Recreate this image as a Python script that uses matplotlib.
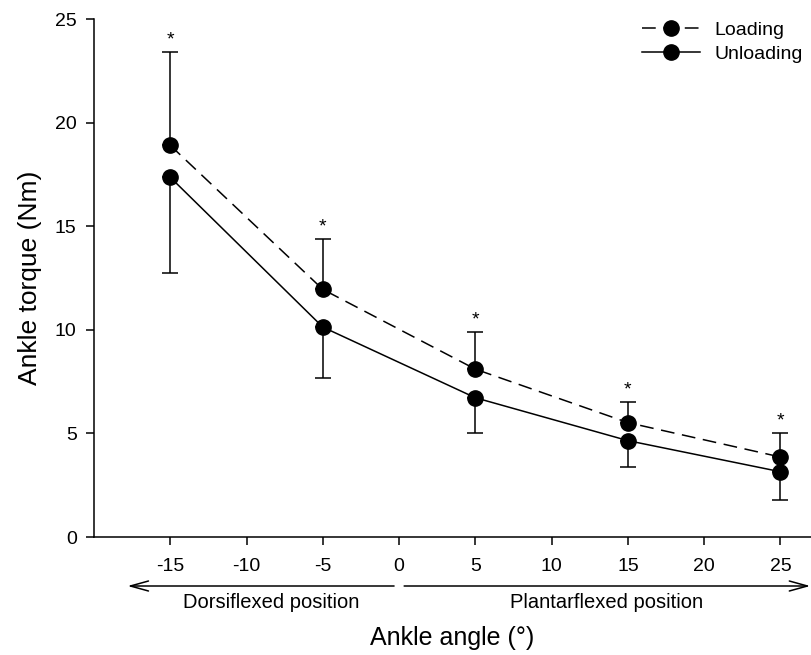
import matplotlib
matplotlib.use('Agg')
import matplotlib.pyplot as plt

plt.rcParams['font.family'] = ['Liberation Sans', 'DejaVu Sans']

# ankle angle (deg) and torque (Nm), mean and SD
angles = [-15, -5, 5, 15, 25]
loading = [18.9, 11.95, 8.1, 5.52, 3.86]
loading_sd = [4.5, 2.43, 1.8, 0.98, 1.17]
unloading = [17.36, 10.13, 6.72, 4.65, 3.15]
unloading_sd = [4.63, 2.47, 1.72, 1.26, 1.36]

xticks = [-15, -10, -5, 0, 5, 10, 15, 20, 25]
yticks = [0, 5, 10, 15, 20, 25]

fig = plt.figure(figsize=(8.11, 6.55), dpi=100)
ax = fig.add_axes([94/811, 118/655, 717/811, 518/655])

zeros = [0]*len(angles)
# error bars: loading upwards, unloading downwards
ax.errorbar(angles, loading, yerr=[zeros, loading_sd], fmt='none', ecolor='black',
            elinewidth=1.1, capsize=5.5, capthick=1.1, zorder=2)
ax.errorbar(angles, unloading, yerr=[unloading_sd, zeros], fmt='none', ecolor='black',
            elinewidth=1.1, capsize=5.5, capthick=1.1, zorder=2)

ax.plot(angles, loading, color='black', lw=1.1, linestyle=(0, (9, 5)), marker='o',
        markersize=11, label='Loading', zorder=3)
ax.plot(angles, unloading, color='black', lw=1.1, linestyle='-', marker='o',
        markersize=11, label='Unloading', zorder=3)

# significance stars above the loading bars
for a, m, s in zip(angles, loading, loading_sd):
    ax.annotate('*', xy=(a, m + s), xytext=(0, 5.5), textcoords='offset points',
                ha='center', va='baseline', fontsize=14)

ax.set_xlim(-20, 27)
ax.set_ylim(0, 25)
ax.set_xticks(xticks)
ax.set_yticks(yticks)
ax.set_xticklabels([str(t) for t in xticks])
ax.tick_params(axis='both', direction='out', length=6, width=1.1, labelsize=14, color='black')
ax.tick_params(axis='x', pad=9)
ax.tick_params(axis='y', pad=6.5)
for side in ['top', 'right']:
    ax.spines[side].set_visible(False)
for side in ['left', 'bottom']:
    ax.spines[side].set_linewidth(1.1)

ax.set_ylabel('Ankle torque (Nm)', fontsize=19)
ax.yaxis.set_label_coords(-0.073, 0.5)
ax.set_xlabel('Ankle angle (°)', fontsize=18)
ax.xaxis.set_label_coords(0.5, -0.171)

# direction arrows under the axis
trans = ax.get_xaxis_transform()
arrow_y = -0.0946
ax.annotate('', xy=(-17.8, arrow_y), xytext=(-0.33, arrow_y), xycoords=trans,
            textcoords=trans, annotation_clip=False,
            arrowprops=dict(arrowstyle='->,head_length=0.65,head_width=0.18', lw=1.1,
                            color='black', shrinkA=0, shrinkB=0, mutation_scale=20))
ax.annotate('', xy=(26.95, arrow_y), xytext=(0.33, arrow_y), xycoords=trans,
            textcoords=trans, annotation_clip=False,
            arrowprops=dict(arrowstyle='->,head_length=0.65,head_width=0.18', lw=1.1,
                            color='black', shrinkA=0, shrinkB=0, mutation_scale=20))
ax.text(-8.4, -0.1255, 'Dorsiflexed position', transform=trans, ha='center', va='center',
        fontsize=14.5)
ax.text(13.63, -0.1255, 'Plantarflexed position', transform=trans, ha='center', va='center',
        fontsize=14.5)

ax.legend(loc='upper right', bbox_to_anchor=(1.0, 1.01), borderaxespad=0, frameon=False,
          fontsize=14, handlelength=3, handletextpad=0.75, labelspacing=0.3, numpoints=1)

fig.savefig('out.png', dpi=100)
